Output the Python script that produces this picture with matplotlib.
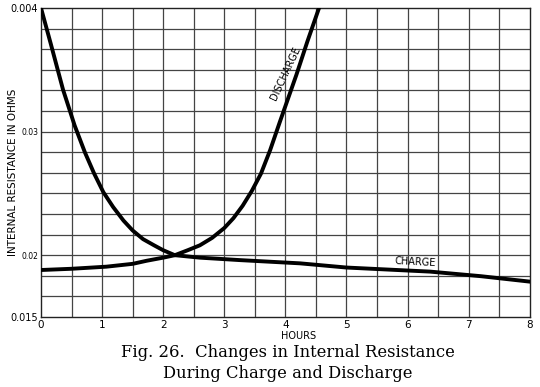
import matplotlib
matplotlib.use("Agg")
import matplotlib.pyplot as plt
import numpy as np

# values
charge_hours = [0, 0.16, 0.36, 0.55, 0.72, 0.87, 1.02, 1.18, 1.35, 1.5, 1.67,
                1.85, 2.0, 2.19, 2.6, 3.26, 4.24, 5.0, 6.37, 7.2, 8.0]
charge_ohms = [0.0400, 0.0371, 0.0334, 0.0305, 0.0283, 0.0266, 0.0251, 0.0239,
               0.0228, 0.0220, 0.0213, 0.0208, 0.0204, 0.0200, 0.0198, 0.0196,
               0.01934, 0.0190, 0.01867, 0.0183, 0.01786]

discharge_hours = [0, 0.5, 1.07, 1.5, 1.73, 2.0, 2.19, 2.4, 2.6, 2.8, 3.0,
                   3.15, 3.3, 3.45, 3.6, 3.75, 3.91, 4.18, 4.36, 4.55]
discharge_ohms = [0.0188, 0.0189, 0.01907, 0.0193, 0.01955, 0.0198, 0.0200,
                  0.0204, 0.0208, 0.0214, 0.0222, 0.0230, 0.0240, 0.0252,
                  0.0266, 0.0285, 0.0308, 0.0346, 0.0373, 0.0400]

x_ticks = [0, 1, 2, 3, 4, 5, 6, 7, 8]
y_ticks = [0.015, 0.02, 0.03, 0.04]
y_ticklabels = ["0.015", "0.02", "0.03", "0.004"]

fig = plt.figure(figsize=(5.4, 3.87), dpi=100)
ax = fig.add_axes([0.076, 0.181, 0.905, 0.798])

# graph paper grid
for gx in np.arange(0.5, 8, 0.5):
    ax.axvline(gx, color="#444444", lw=0.9, zorder=1)
for gy in np.arange(0.015 + 0.005 / 3, 0.0399, 0.005 / 3):
    ax.axhline(gy, color="#444444", lw=0.9, zorder=1)

ax.plot(charge_hours, charge_ohms, color="black", lw=2.8, zorder=3,
        solid_joinstyle="round")
ax.plot(discharge_hours, discharge_ohms, color="black", lw=2.8, zorder=3,
        solid_joinstyle="round")

ax.set_xlim(0, 8)
ax.set_ylim(0.015, 0.04)

ax.set_xticks(x_ticks)
ax.set_xticklabels([str(t) for t in x_ticks], fontsize=7.5)
ax.set_yticks(y_ticks)
ax.set_yticklabels(y_ticklabels, fontsize=7)
ax.tick_params(length=0, pad=2)
for lbl in ax.get_yticklabels()[1:3]:
    lbl.set_fontsize(5.5)

for s in ax.spines.values():
    s.set_color("#222222")
    s.set_linewidth(1.0)

fig.text(0.552, 0.132, "HOURS", fontsize=7, ha="center", va="center")
fig.text(0.024, 0.556, "INTERNAL RESISTANCE IN OHMS", fontsize=7.5,
         rotation=90, ha="center", va="center")

ax.text(4.0, 0.0347, "DISCHARGE", rotation=65, fontsize=7,
        ha="center", va="center", zorder=4)
ax.text(6.12, 0.01945, "CHARGE", rotation=-3, fontsize=7,
        ha="center", va="center", zorder=4)

fig.text(0.533, 0.090, "Fig. 26.  Changes in Internal Resistance",
         ha="center", va="center", fontsize=11.8, family="DejaVu Serif")
fig.text(0.533, 0.036, "During Charge and Discharge",
         ha="center", va="center", fontsize=11.8, family="DejaVu Serif")

fig.savefig("out.png", dpi=100)
